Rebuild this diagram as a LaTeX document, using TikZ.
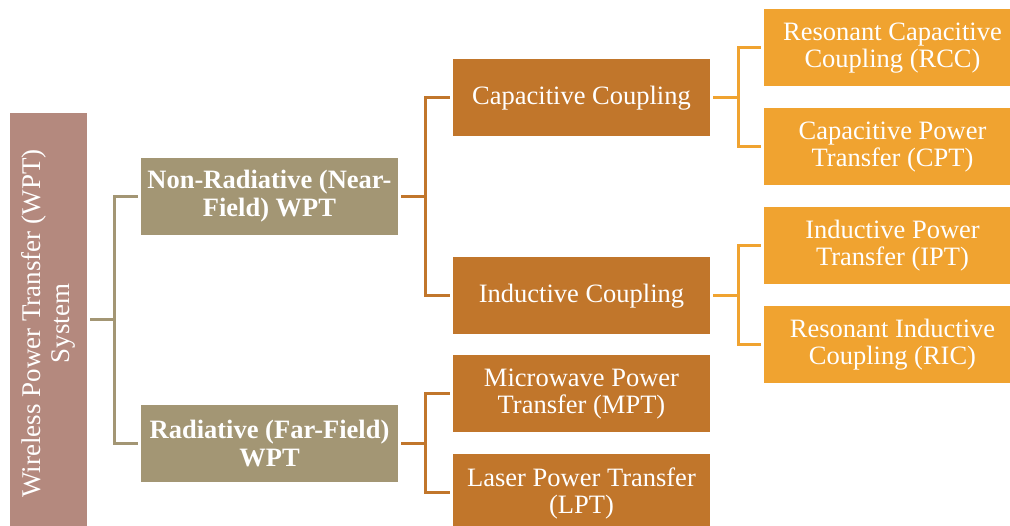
\documentclass[tikz,border=0pt]{standalone}
\usepackage{fontspec}
\setmainfont{Liberation Serif}
\definecolor{rootcol}{HTML}{B4897E}
\definecolor{lonecol}{HTML}{A39674}
\definecolor{ltwocol}{HTML}{C1762B}
\definecolor{lthreecol}{HTML}{F0A330}
\begin{document}
\begin{tikzpicture}[x=1pt,y=-1pt,
  box/.style={draw=none, minimum width=257pt, minimum height=77pt, inner sep=0pt,
    align=center, text=white, font=\fontsize{26.5}{27}\selectfont},
  rootbox/.style={draw=none, fill=rootcol, minimum width=77pt, minimum height=413pt, inner sep=0pt},
  lone/.style={box, fill=lonecol, font=\bfseries\fontsize{26.5}{28}\selectfont},
  ltwo/.style={box, fill=ltwocol},
  lthree/.style={box, fill=lthreecol},
  conn/.style={line width=3pt, shorten <=3pt, shorten >=3pt}
]
\useasboundingbox (0,0) rectangle (1010,526);
\clip (0,0) rectangle (1010,526);

\node[rootbox] (root) at (48.5,319.5) {};
\node[rotate=90, align=center, text=white, inner sep=0pt,
  font=\fontsize{27}{29}\selectfont] (roottxt) at ([xshift=0pt,yshift=-4pt]root.center)
  {Wireless Power Transfer (WPT)\\System};

\node[lone] (nr) at (269.5,196.5) {Non-Radiative (Near-\\Field) WPT};
\node[lone] (rad) at (269.5,443.5) {Radiative (Far-Field)\\WPT};

\node[ltwo] (cc) at (581.5,98) {Capacitive Coupling};
\node[ltwo] (ic) at (581.5,296) {Inductive Coupling};
\node[ltwo] (mpt) at (581.5,394) {Microwave Power\\Transfer (MPT)};
\node[ltwo] (lpt) at (581.5,493) {Laser Power Transfer\\(LPT)};

\node[lthree] (rcc) at (892.5,48) {Resonant Capacitive\\Coupling (RCC)};
\node[lthree] (cpt) at (892.5,147) {Capacitive Power\\Transfer (CPT)};
\node[lthree] (ipt) at (892.5,246) {Inductive Power\\Transfer (IPT)};
\node[lthree] (ric) at (892.5,345) {Resonant Inductive\\Coupling (RIC)};

\draw[conn, draw=lonecol] (root.east) -- ++(27,0) |- (nr.west);
\draw[conn, draw=lonecol] (root.east) -- ++(27,0) |- (rad.west);

\draw[conn, draw=ltwocol] (nr.east) -- ++(27,0) |- (cc.west);
\draw[conn, draw=ltwocol] (nr.east) -- ++(27,0) |- (ic.west);
\draw[conn, draw=ltwocol] (rad.east) -- ++(27,0) |- (mpt.west);
\draw[conn, draw=ltwocol] (rad.east) -- ++(27,0) |- (lpt.west);

\draw[conn, draw=lthreecol] (cc.east) -- ++(28,0) |- (rcc.west);
\draw[conn, draw=lthreecol] (cc.east) -- ++(28,0) |- (cpt.west);
\draw[conn, draw=lthreecol] (ic.east) -- ++(28,0) |- (ipt.west);
\draw[conn, draw=lthreecol] (ic.east) -- ++(28,0) |- (ric.west);
\end{tikzpicture}
\end{document}
